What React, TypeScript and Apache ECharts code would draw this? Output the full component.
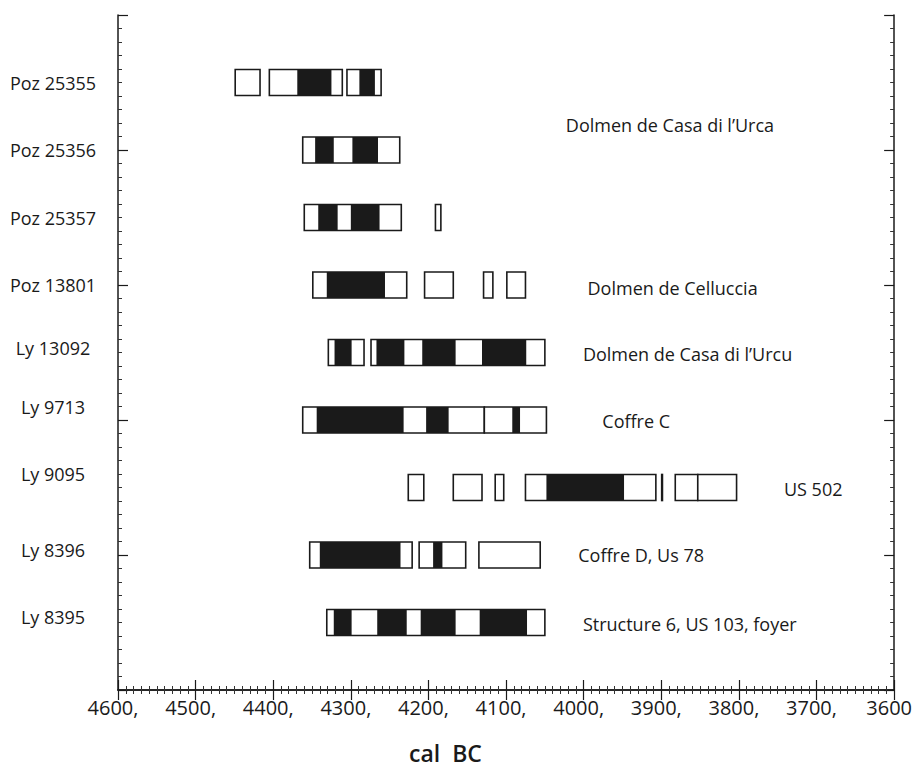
import React, { useEffect, useRef } from "react";
import * as echarts from "echarts";

// Sample names (left) and their row positions (y units, axis 0..5)
const sampleLabels = [
  "Poz 25355",
  "Poz 25356",
  "Poz 25357",
  "Poz 13801",
  "Ly 13092",
  "Ly 9713",
  "Ly 9095",
  "Ly 8396",
  "Ly 8395",
];
const sampleRowY = [4.5, 4.0, 3.5, 3.0, 2.5, 2.0, 1.5, 1.0, 0.5];
const sampleLabelY = [4.5, 4.0, 3.5, 3.0, 2.53, 2.1, 1.6, 1.04, 0.54];

// 95.4% ranges (white boxes): [row, from cal BC, to cal BC]
const rangeBoxes = [
  [0, 4449, 4417], [0, 4405, 4311], [0, 4305, 4261],
  [1, 4362, 4237],
  [2, 4360, 4235], [2, 4191, 4184],
  [3, 4349, 4228], [3, 4205, 4168], [3, 4129, 4117], [3, 4099, 4075],
  [4, 4329, 4283], [4, 4274, 4050],
  [5, 4362, 4128], [5, 4128, 4048],
  [6, 4226, 4206], [6, 4168, 4131], [6, 4114, 4103], [6, 4075, 3907],
  [6, 3899.5, 3898.5], [6, 3882, 3853], [6, 3853, 3803],
  [7, 4353, 4221], [7, 4212, 4152], [7, 4135, 4056],
  [8, 4331, 4050],
];

// 68.2% ranges (black fills): [row, from, to]
const rangeFills = [
  [0, 4369, 4325], [0, 4289, 4269],
  [1, 4346, 4322], [1, 4298, 4265],
  [2, 4342, 4317], [2, 4300, 4263],
  [3, 4331, 4256],
  [4, 4321, 4299], [4, 4267, 4231], [4, 4208, 4165], [4, 4131, 4074],
  [5, 4344, 4232], [5, 4203, 4174], [5, 4092, 4082],
  [6, 4048, 3948],
  [7, 4340, 4236], [7, 4194, 4182],
  [8, 4322, 4299], [8, 4266, 4228], [8, 4210, 4165], [8, 4134, 4073],
];

// Site annotations
const siteNames = [
  "Dolmen de Casa di l\u2019Urca",
  "Dolmen de Celluccia",
  "Dolmen de Casa di l\u2019Urcu",
  "Coffre C",
  "US 502",
  "Coffre D, Us 78",
  "Structure 6, US 103, foyer",
];
const siteX = [4023, 3995, 4001, 3976, 3742, 4007, 4001];
const siteY = [4.185, 2.98, 2.49, 1.99, 1.49, 1.0, 0.49];

const axisTitle = "cal  BC";

const FONT = "'Open Sans', 'Noto Sans', sans-serif";
const INK = "#1a1a1a";
const BOX_H = 0.193;

export default function App() {
  const ref = useRef<HTMLDivElement>(null);

  useEffect(() => {
    if (!ref.current) return;
    const chart = echarts.init(ref.current, undefined, { renderer: "svg" });

    const rectItem = (fill: string, stroke: string | null) => (params: any, api: any) => {
      const row = api.value(0);
      const y = sampleRowY[row];
      const p1 = api.coord([api.value(1), y]);
      const p2 = api.coord([api.value(2), y]);
      const top = api.coord([api.value(1), y + BOX_H / 2])[1];
      const bot = api.coord([api.value(1), y - BOX_H / 2])[1];
      return {
        type: "rect",
        shape: {
          x: Math.min(p1[0], p2[0]),
          y: top,
          width: Math.abs(p2[0] - p1[0]),
          height: bot - top,
        },
        style: stroke
          ? { fill, stroke, lineWidth: 1.6 }
          : { fill },
      };
    };

    const axisCommonX = {
      type: "value",
      min: 3600,
      max: 4600,
      interval: 100,
      inverse: true,
      axisLine: { show: true, lineStyle: { color: INK, width: 1.5 } },
      axisTick: { show: true, inside: true, length: 10, lineStyle: { color: INK, width: 1.2 } },
      minorTick: { show: true, splitNumber: 10, length: 4, lineStyle: { color: "#333", width: 1 } },
      splitLine: { show: false },
      minorSplitLine: { show: false },
    };
    const axisCommonY = {
      type: "value",
      min: 0,
      max: 5,
      interval: 1,
      axisLine: { show: true, lineStyle: { color: INK, width: 1.5 } },
      axisTick: { show: true, inside: true, length: 10, lineStyle: { color: INK, width: 1.2 } },
      minorTick: { show: true, splitNumber: 10, length: 4, lineStyle: { color: "#333", width: 1 } },
      splitLine: { show: false },
      minorSplitLine: { show: false },
      axisLabel: { show: false },
    };

    chart.setOption({
      animation: false,
      backgroundColor: "#ffffff",
      grid: { left: 118, right: 20, top: 15, bottom: 77, containLabel: false },
      xAxis: [
        {
          ...axisCommonX,
          position: "bottom",
          axisLabel: {
            formatter: (v: number) => (v === 3600 ? "3600" : v + ","),
            fontSize: 20,
            fontFamily: FONT,
            color: INK,
            margin: 7,
            padding: [0, 10, 0, 0],
          },
        },
        { ...axisCommonX, position: "top", axisLabel: { show: false } },
      ],
      yAxis: [
        { ...axisCommonY, position: "left" },
        { ...axisCommonY, position: "right" },
      ],
      graphic: [
        {
          type: "text",
          left: 409,
          top: 741,
          style: { text: axisTitle, fontSize: 23, fontWeight: 600, fontFamily: FONT, fill: INK },
        },
      ],
      series: [
        {
          type: "custom",
          name: "95.4%",
          xAxisIndex: 0,
          yAxisIndex: 0,
          encode: { x: [1, 2], y: 0 },
          renderItem: rectItem("#ffffff", INK),
          data: rangeBoxes,
          z: 2,
        },
        {
          type: "custom",
          name: "68.2%",
          xAxisIndex: 0,
          yAxisIndex: 0,
          encode: { x: [1, 2], y: 0 },
          renderItem: rectItem(INK, null),
          data: rangeFills,
          z: 3,
        },
        {
          type: "custom",
          name: "samples",
          xAxisIndex: 0,
          yAxisIndex: 0,
          encode: { y: 1 },
          renderItem: (params: any, api: any) => {
            const i = api.value(0);
            const p = api.coord([4600, api.value(1)]);
            return {
              type: "text",
              x: p[0] - 65,
              y: p[1],
              style: {
                text: sampleLabels[i],
                fontSize: 18,
                fontFamily: FONT,
                fill: INK,
                align: "center",
                verticalAlign: "middle",
              },
            };
          },
          data: sampleLabelY.map((y, i) => [i, y]),
          z: 4,
        },
        {
          type: "custom",
          name: "sites",
          xAxisIndex: 0,
          yAxisIndex: 0,
          encode: { x: 1, y: 2 },
          renderItem: (params: any, api: any) => {
            const i = api.value(0);
            const p = api.coord([api.value(1), api.value(2)]);
            return {
              type: "text",
              x: p[0],
              y: p[1],
              style: {
                text: siteNames[i],
                fontSize: 18,
                fontFamily: FONT,
                fill: INK,
                align: "left",
                verticalAlign: "middle",
              },
            };
          },
          data: siteNames.map((_, i) => [i, siteX[i], siteY[i]]),
          z: 4,
        },
      ],
    });

    return () => chart.dispose();
  }, []);

  return (
    <div
      ref={ref}
      style={{ position: "fixed", left: 0, top: 0, width: 915, height: 767, background: "#fff" }}
    />
  );
}
